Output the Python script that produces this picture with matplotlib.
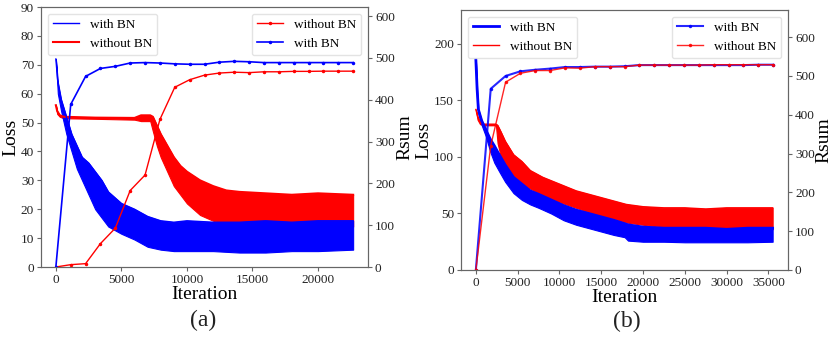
import numpy as np
import matplotlib
matplotlib.use("Agg")
from matplotlib import pyplot as plt

plt.rcParams['font.family'] = ['Liberation Serif', 'DejaVu Serif']

# ---- (a) loss envelopes (iteration, lower, upper) ----
a_blue_x = [0, 150, 400, 800, 1200, 1600, 2000, 2500, 3000, 3500, 4000, 5000, 6000, 7000,
            8000, 9000, 10000, 12000, 14000, 16000, 18000, 20000, 22680]
a_blue_lo = [72, 60, 54, 46, 40, 34, 30, 25, 20, 17, 14, 11.5, 9.5, 7, 6, 5.5, 5.5, 5.5, 5, 5, 5.5, 5.5, 6]
a_blue_hi = [72, 64, 58, 52, 46, 42, 38, 36, 33, 30, 26, 22, 20, 17.5, 16, 15.5, 16, 15.5, 15.5, 16, 15.5, 16, 16]

a_red_x = [0, 100, 300, 600, 3000, 6000, 6500, 7200, 7400, 7700, 8000, 8500, 9000, 9500,
           10000, 11000, 12000, 13000, 14000, 16000, 18000, 20000, 22680]
a_red_lo = [56, 53, 52, 51.5, 51.3, 51, 50.5, 50.5, 47, 42, 38, 33, 28, 25, 22, 18, 16, 15, 15, 14, 14, 14, 14]
a_red_hi = [56, 54, 52.5, 52, 51.7, 51.6, 52.5, 52.5, 52, 49, 46, 42, 38, 35, 33, 30, 28, 26.5, 26, 25.5, 25, 25.5, 25]

# ---- (a) Rsum ----
a_rsum_x = [0, 1134, 2268, 3402, 4536, 5670, 6804, 7938, 9072, 10206, 11340, 12474, 13608,
            14742, 15876, 17010, 18144, 19278, 20412, 21546, 22680]
a_rsum_blue = [0, 389, 456, 475, 480, 488, 489, 488, 486, 485, 485, 490, 492, 491, 489, 489, 489, 489, 489, 489, 489]
a_rsum_red = [0, 5.6, 8, 56, 93, 183, 220, 353, 430, 448, 459, 464, 466, 465, 467, 467, 468, 468, 468.5, 468.5, 468.5]

# ---- (b) loss envelopes ----
b_blue_x = [0, 150, 300, 700, 1200, 1700, 2200, 2800, 3500, 4500, 5500, 6500, 7500, 9000, 10500,
            12000, 13500, 15000, 16500, 17800, 18200, 20000, 22500, 25000, 27500, 30000, 32500, 35500]
b_blue_lo = [186, 150, 138, 128, 118, 105, 95, 87, 78, 68, 62, 58, 55, 50, 44, 40, 37, 34, 31, 29, 26,
             25, 25, 24.5, 24.5, 24.5, 24.5, 25]
b_blue_hi = [186, 160, 142, 132, 124, 116, 110, 102, 93, 82, 76, 70, 67, 62, 57, 53, 50, 47, 44, 41, 40,
             38, 37, 37, 37, 36, 37, 37]

b_red_x = [0, 200, 500, 900, 2400, 2600, 3000, 3500, 4500, 5500, 6500, 8000, 10000, 12000, 14000,
           16000, 18000, 20000, 22500, 25000, 27500, 30000, 32500, 35500]
b_red_lo = [142, 133, 129, 128, 128, 112, 100, 92, 82, 76, 72, 66, 60, 55, 50, 46, 42, 40, 38, 37, 37, 36, 36, 36]
b_red_hi = [142, 136, 131, 129, 129, 128, 122, 114, 102, 96, 88, 82, 76, 70, 66, 62, 58, 56, 55, 55, 54, 55, 55, 55]

# ---- (b) Rsum ----
b_rsum_x = [0, 1778, 3556, 5334, 7112, 8890, 10668, 12446, 14224, 16002, 17780, 19558, 21336,
            23114, 24892, 26670, 28448, 30226, 32004, 33782, 35560]
b_rsum_blue = [0, 467, 500, 512, 516, 519, 523, 523, 524, 524, 525, 528, 528, 528, 528, 528, 528, 528, 528, 529, 529]
b_rsum_red = [0, 320, 484, 507, 514, 514, 521, 520, 524, 524, 524, 528, 528, 528, 528, 528, 529, 529, 529, 529, 529]

SPINE = '#666666'
TXT = '#222222'
TICK_FS = 9.5
LEG_FS = 9.5


def style(ax):
    for s in ax.spines.values():
        s.set_color(SPINE)
    ax.tick_params(labelsize=TICK_FS, colors=SPINE, labelcolor=TXT, length=3, pad=2)


def band(ax, x, lo, hi, color, lw, label):
    ax.fill_between(x, lo, hi, color=color, lw=0.8, edgecolor=color)
    ax.plot(x, hi, color=color, lw=lw, label=label)


fig = plt.figure(figsize=(8.31, 3.38), dpi=100)

# ---------------- (a) ----------------
ax = fig.add_axes([41 / 831, 1 - 267 / 338, 327 / 831, 260 / 338])
band(ax, a_red_x, a_red_lo, a_red_hi, 'red', 1.5, 'without BN')
band(ax, a_blue_x, a_blue_lo, a_blue_hi, 'blue', 1.0, 'with BN')
ax.set_ylim(0, 90)
ax.set_yticks(np.arange(0, 91, 10))
ax.set_xticks(np.arange(0, 20001, 5000))
ax.set_ylabel('Loss', fontsize=14, labelpad=1)
ax.set_xlabel('Iteration', fontsize=14, labelpad=0)
style(ax)
h, l = ax.get_legend_handles_labels()
ax.legend(h[::-1], l[::-1], loc='upper left', fontsize=LEG_FS, edgecolor='#dddddd')

ax2 = ax.twinx()
ax2.plot(a_rsum_x, a_rsum_red, color='red', lw=1, marker='.', ms=3, label='without BN')
ax2.plot(a_rsum_x, a_rsum_blue, color='blue', lw=1.2, marker='.', ms=3, label='with BN')
ax2.set_ylim(0, 622)
ax2.set_yticks(np.arange(0, 601, 100))
ax2.set_ylabel('Rsum', fontsize=14, labelpad=1)
style(ax2)
ax2.legend(loc='upper right', fontsize=LEG_FS, edgecolor='#dddddd')
fig.text(203 / 831, 1 - 320 / 338, '(a)', fontsize=17, ha='center', va='center', color=TXT)

# ---------------- (b) ----------------
bx = fig.add_axes([461 / 831, 1 - 270 / 338, 327 / 831, 260 / 338])
band(bx, b_red_x, b_red_lo, b_red_hi, 'red', 1.0, 'without BN')
band(bx, b_blue_x, b_blue_lo, b_blue_hi, 'blue', 2.0, 'with BN')
bx.set_ylim(0, 230)
bx.set_yticks(np.arange(0, 201, 50))
bx.set_xticks(np.arange(0, 35001, 5000))
bx.set_ylabel('Loss', fontsize=14, labelpad=1)
bx.set_xlabel('Iteration', fontsize=14, labelpad=0)
style(bx)
h, l = bx.get_legend_handles_labels()
bx.legend(h[::-1], l[::-1], loc='upper left', fontsize=LEG_FS, edgecolor='#dddddd')

bx2 = bx.twinx()
bx2.plot(b_rsum_x, b_rsum_blue, color='blue', lw=1.5, alpha=0.85, marker='.', ms=3, label='with BN')
bx2.plot(b_rsum_x, b_rsum_red, color='red', lw=1, alpha=0.85, marker='.', ms=3, label='without BN')
bx2.set_ylim(0, 670)
bx2.set_yticks(np.arange(0, 601, 100))
bx2.set_ylabel('Rsum', fontsize=14, labelpad=0)
style(bx2)
bx2.legend(loc='upper right', fontsize=LEG_FS, edgecolor='#dddddd')
fig.text(627 / 831, 1 - 321 / 338, '(b)', fontsize=17, ha='center', va='center', color=TXT)

fig.savefig('out.png', dpi=100)
